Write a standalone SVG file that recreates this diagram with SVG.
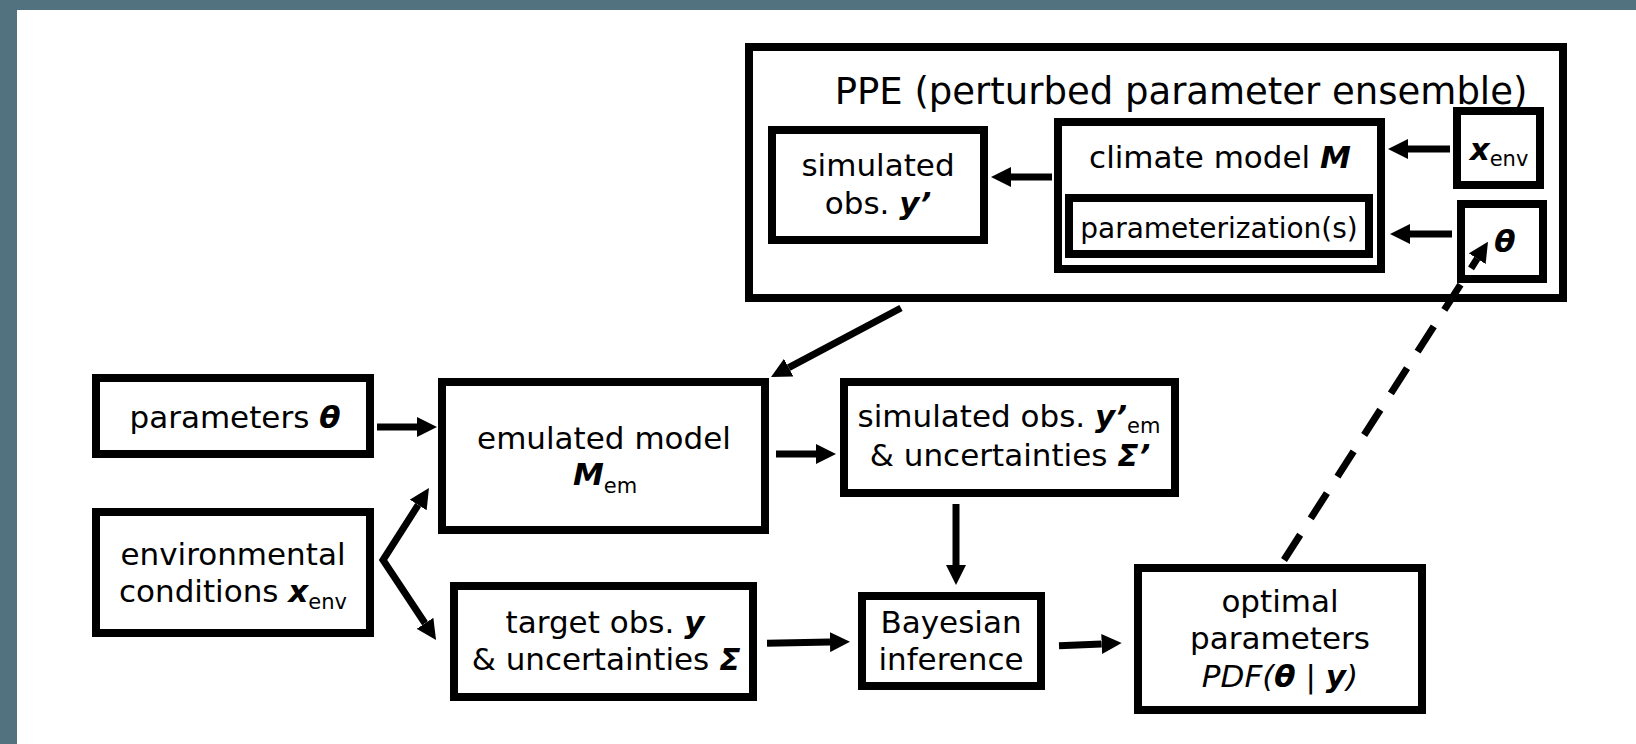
<svg xmlns="http://www.w3.org/2000/svg" width="1636" height="744" viewBox="0 0 1636 744">
  <defs>
    <style>
      .box { fill: #ffffff; stroke: #000000; stroke-width: 8; }
      .t { font-family: "DejaVu Sans", "Noto Sans", sans-serif; font-size: 31px; fill: #000000; text-anchor: middle; }
      .bi { font-weight: bold; font-style: italic; }
      .it { font-style: italic; }
      .sub { font-size: 21px; }
      .conn { fill: none; stroke: #000000; stroke-width: 7; stroke-linecap: butt; stroke-linejoin: miter; }
      .dash { stroke-dasharray: 30 19.5; }
    </style>
    <marker id="ah" viewBox="0 -10 20 20" refX="0" refY="0" markerWidth="20" markerHeight="20" markerUnits="userSpaceOnUse" orient="auto-start-reverse">
      <path d="M0,-10 L20,0 L0,10 z" fill="#000000"/>
    </marker>
  </defs>

  <!-- page frame -->
  <rect x="0" y="0" width="1636" height="744" fill="#52727f"/>
  <rect x="17" y="10" width="1619" height="734" fill="#ffffff"/>

  <!-- perturbed parameter ensemble container -->
  <g id="ppe">
    <rect class="box" x="749" y="47" width="814" height="251"/>
    <text class="t" x="1181" y="104" style="font-size:37px">PPE (perturbed parameter ensemble)</text>
  </g>

  <g id="sim-obs-ppe">
    <rect class="box" x="772" y="130" width="212" height="110"/>
    <text class="t" x="878" y="176">simulated</text>
    <text class="t" x="878" y="214">obs. <tspan class="bi">y’</tspan></text>
  </g>

  <g id="climate-model">
    <rect class="box" x="1058" y="122" width="323" height="147"/>
    <text class="t" x="1220" y="168">climate model <tspan class="bi">M</tspan></text>
  </g>

  <g id="parameterization">
    <rect class="box" x="1069" y="198" width="300" height="56"/>
    <text class="t" x="1219" y="238" style="font-size:28px">parameterization(s)</text>
  </g>

  <g id="xenv-ppe">
    <rect class="box" x="1457" y="111" width="83" height="74"/>
    <text class="t" x="1499" y="160"><tspan class="bi">x</tspan><tspan class="sub" dy="6">env</tspan></text>
  </g>

  <g id="theta-ppe">
    <rect class="box" x="1461" y="204" width="82" height="75"/>
    <text class="t" x="1505" y="252"><tspan class="bi">θ</tspan></text>
  </g>

  <g id="parameters">
    <rect class="box" x="96" y="378" width="274" height="76"/>
    <text class="t" x="235" y="428">parameters <tspan class="bi">θ</tspan></text>
  </g>

  <g id="environment">
    <rect class="box" x="96" y="512" width="274" height="121"/>
    <text class="t" x="233" y="565">environmental</text>
    <text class="t" x="233" y="602">conditions <tspan class="bi">x</tspan><tspan class="sub" dy="7">env</tspan></text>
  </g>

  <g id="emulator">
    <rect class="box" x="442" y="382" width="323" height="148"/>
    <text class="t" x="604" y="449">emulated model</text>
    <text class="t" x="605" y="485"><tspan class="bi">M</tspan><tspan class="sub" dy="8">em</tspan></text>
  </g>

  <g id="target-obs">
    <rect class="box" x="454" y="586" width="299" height="111"/>
    <text class="t" x="605" y="633">target obs. <tspan class="bi">y</tspan></text>
    <text class="t" x="606" y="670">&amp; uncertainties <tspan class="bi">Σ</tspan></text>
  </g>

  <g id="sim-obs-em">
    <rect class="box" x="844" y="382" width="331" height="111"/>
    <text class="t" x="1009" y="427">simulated obs. <tspan class="bi">y’</tspan><tspan class="sub" dy="6">em</tspan></text>
    <text class="t" x="1010" y="466">&amp; uncertainties <tspan class="bi">Σ’</tspan></text>
  </g>

  <g id="bayes">
    <rect class="box" x="862" y="596" width="179" height="90"/>
    <text class="t" x="951" y="633">Bayesian</text>
    <text class="t" x="951" y="670">inference</text>
  </g>

  <g id="optimal">
    <rect class="box" x="1138" y="568" width="284" height="142"/>
    <text class="t" x="1280" y="612">optimal</text>
    <text class="t" x="1280" y="649">parameters</text>
    <text class="t" x="1280" y="687"><tspan class="it">PDF(</tspan><tspan class="bi">θ</tspan> | <tspan class="bi">y</tspan><tspan class="it">)</tspan></text>
  </g>

  <!-- connectors: paths stop at the arrowhead base, the marker supplies the head -->
  <g id="connectors">
    <path class="conn" d="M1052,177 H1011" marker-end="url(#ah)"/>
    <path class="conn" d="M1450,149 H1408" marker-end="url(#ah)"/>
    <path class="conn" d="M1452,234 H1410" marker-end="url(#ah)"/>
    <path class="conn" d="M377,427 H417" marker-end="url(#ah)"/>
    <path class="conn" d="M418.2,504.9 L383,560 L425,623.3" marker-start="url(#ah)" marker-end="url(#ah)"/>
    <path class="conn" d="M901,308 L788.7,367.6" marker-end="url(#ah)"/>
    <path class="conn" d="M776,454 H816" marker-end="url(#ah)"/>
    <path class="conn" d="M767,643.3 L830,642.1" marker-end="url(#ah)"/>
    <path class="conn" d="M956,504 V565" marker-end="url(#ah)"/>
    <path class="conn" d="M1059,645.7 L1101.7,643.9" marker-end="url(#ah)"/>
    <path class="conn dash" d="M1284,560 L1477.2,258.7" marker-end="url(#ah)"/>
  </g>
</svg>
